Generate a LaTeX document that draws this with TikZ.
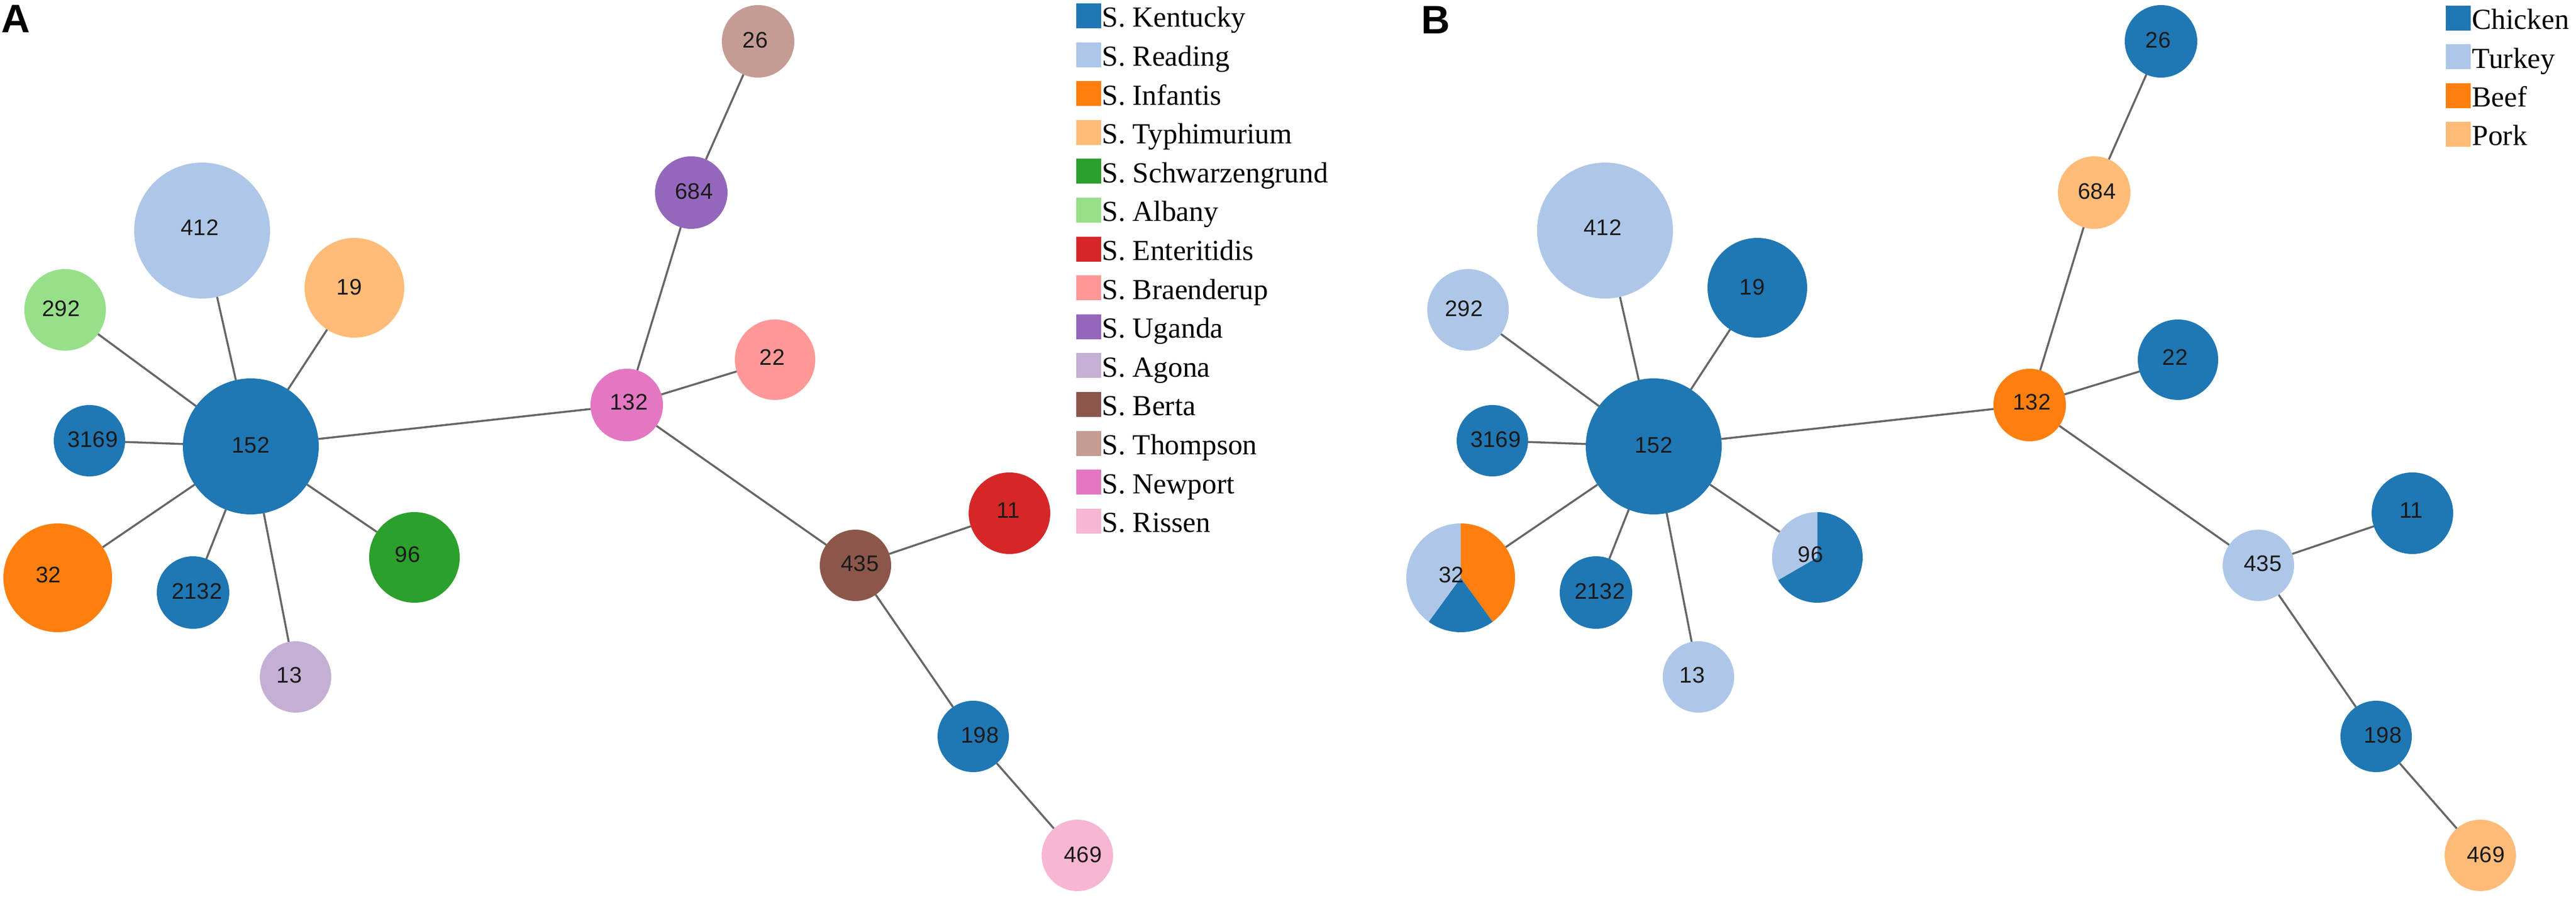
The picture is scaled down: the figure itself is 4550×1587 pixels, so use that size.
\documentclass[tikz,border=0pt]{standalone}
\usepackage{fontspec}
\setmainfont{Liberation Serif}
\setsansfont{Liberation Sans}
\pgfdeclarelayer{edges}
\pgfsetlayers{edges,main}
\definecolor{cKen}{HTML}{1F77B4}
\definecolor{cRea}{HTML}{AEC7E8}
\definecolor{cInf}{HTML}{FF7F0E}
\definecolor{cTyp}{HTML}{FFBB78}
\definecolor{cSch}{HTML}{2CA02C}
\definecolor{cAlb}{HTML}{98DF8A}
\definecolor{cEnt}{HTML}{D62728}
\definecolor{cBra}{HTML}{FF9896}
\definecolor{cUga}{HTML}{9467BD}
\definecolor{cAgo}{HTML}{C5B0D5}
\definecolor{cBer}{HTML}{8C564B}
\definecolor{cTho}{HTML}{C49C94}
\definecolor{cNew}{HTML}{E377C2}
\definecolor{cRis}{HTML}{F7B6D2}
\definecolor{edgegray}{HTML}{666666}
\definecolor{numink}{HTML}{1A1A1A}
\tikzset{
  stnode/.style={circle, inner sep=0pt, outer sep=0pt, draw=none},
  numlbl/.style={inner sep=0pt, text=numink, font=\sffamily\fontsize{11.3}{13}\selectfont},
  edge/.style={draw=edgegray, line width=1pt},
  legsq/.style={rectangle, inner sep=0pt, minimum size=4.4mm, draw=none},
  legtxt/.style={anchor=base west, inner sep=0pt, font=\fontsize{14.6}{17}\selectfont},
  panel/.style={anchor=base west, inner sep=0pt, font=\sffamily\bfseries\fontsize{20}{24}\selectfont}
}
% name, x, y, radius(px), fill, text, dx, dy
\newcommand{\stn}[8]{%
  \node[stnode, minimum size={#4*0.2mm}, fill=#5] (#1) at (#2,#3) {};
  \node[numlbl] (#1t) at ({#2+(#7)},{#3+(#8)}) {#6};
}
\begin{document}
\begin{tikzpicture}[x=0.1mm, y=-0.1mm]
\useasboundingbox (0,0) rectangle (4550,1587);

% ---------------- Panel A ----------------
\node[panel] (pA) at (2,58) {A};
\stn{a152}{443}{788}{120}{cKen}{152}{0}{-2}
\stn{a412}{357}{407}{120}{cRea}{412}{-4}{-5}
\stn{a19}{626}{508}{88}{cTyp}{19}{-9}{-1}
\stn{a292}{115}{547}{72}{cAlb}{292}{-7}{-2}
\stn{a3169}{158}{778}{63}{cKen}{3169}{6}{-2}
\stn{a32}{102}{1020}{96}{cInf}{32}{-16}{-5}
\stn{a2132}{341}{1046}{64}{cKen}{2132}{7}{-2}
\stn{a13}{522}{1195}{63}{cAgo}{13}{-11}{-3}
\stn{a96}{732}{984}{80}{cSch}{96}{-12}{-5}
\stn{a132}{1107}{715}{64}{cNew}{132}{4}{-5}
\stn{a684}{1221}{340}{64}{cUga}{684}{5}{-2}
\stn{a26}{1339}{73}{64}{cTho}{26}{-5}{-2}
\stn{a22}{1369}{635}{71}{cBra}{22}{-5}{-4}
\stn{a11}{1783}{906}{72}{cEnt}{11}{-2}{-5}
\stn{a435}{1511}{998}{63}{cBer}{435}{8}{-3}
\stn{a198}{1719}{1300}{63}{cKen}{198}{12}{-2}
\stn{a469}{1903}{1510}{63}{cRis}{469}{10}{-1}
\begin{pgfonlayer}{edges}
  \foreach \s/\t in {152/412,152/19,152/292,152/3169,152/32,152/2132,152/13,152/96,152/132,
                     132/684,684/26,132/22,132/435,435/11,435/198,198/469}
    \draw[edge] (a\s) -- (a\t);
\end{pgfonlayer}

% legend A
\foreach \c/\t [count=\i from 0] in {cKen/Kentucky,cRea/Reading,cInf/Infantis,cTyp/Typhimurium,
    cSch/Schwarzengrund,cAlb/Albany,cEnt/Enteritidis,cBra/Braenderup,cUga/Uganda,cAgo/Agona,
    cBer/Berta,cTho/Thompson,cNew/Newport,cRis/Rissen}{
  \node[legsq, fill=\c] (la\i) at (1923,{28+68.6*\i}) {};
  \node[legtxt] (lat\i) at (1946,{48+68.6*\i}) {S. \t};
}

% ---------------- Panel B ----------------
\node[panel] (pB) at (2510,60) {B};
\begin{scope}[xshift=247.8mm]
\stn{b152}{443}{788}{120}{cKen}{152}{0}{-2}
\stn{b412}{357}{407}{120}{cRea}{412}{-4}{-5}
\stn{b19}{626}{508}{88}{cKen}{19}{-9}{-1}
\stn{b292}{115}{547}{72}{cRea}{292}{-7}{-2}
\stn{b3169}{158}{778}{63}{cKen}{3169}{6}{-2}
\stn{b2132}{341}{1046}{64}{cKen}{2132}{7}{-2}
\stn{b13}{522}{1195}{63}{cRea}{13}{-11}{-3}
\stn{b132}{1107}{715}{64}{cInf}{132}{4}{-5}
\stn{b684}{1221}{340}{64}{cTyp}{684}{5}{-2}
\stn{b26}{1339}{73}{64}{cKen}{26}{-5}{-2}
\stn{b22}{1369}{635}{71}{cKen}{22}{-5}{-4}
\stn{b11}{1783}{906}{72}{cKen}{11}{-2}{-5}
\stn{b435}{1511}{998}{63}{cRea}{435}{8}{-3}
\stn{b198}{1719}{1300}{63}{cKen}{198}{12}{-2}
\stn{b469}{1903}{1510}{63}{cTyp}{469}{10}{-1}
% pie node 32
\node[stnode, minimum size=19.2mm] (b32) at (102,1020) {};
\fill[cInf] (b32.center) -- ++(-90:96) arc[start angle=-90, end angle=54, radius=96] -- cycle;
\fill[cKen] (b32.center) -- ++(54:96) arc[start angle=54, end angle=126, radius=96] -- cycle;
\fill[cRea] (b32.center) -- ++(126:96) arc[start angle=126, end angle=270, radius=96] -- cycle;
\node[numlbl] (b32t) at (86,1015) {32};
% pie node 96
\node[stnode, minimum size=16mm] (b96) at (732,984) {};
\fill[cKen] (b96.center) -- ++(-90:80) arc[start angle=-90, end angle=150, radius=80] -- cycle;
\fill[cRea] (b96.center) -- ++(150:80) arc[start angle=150, end angle=270, radius=80] -- cycle;
\node[numlbl] (b96t) at (720,979) {96};
\begin{pgfonlayer}{edges}
  \foreach \s/\t in {152/412,152/19,152/292,152/3169,152/32,152/2132,152/13,152/96,152/132,
                     132/684,684/26,132/22,132/435,435/11,435/198,198/469}
    \draw[edge] (b\s) -- (b\t);
\end{pgfonlayer}
\end{scope}

% legend B
\foreach \c/\t [count=\i from 0] in {cKen/Chicken,cRea/Turkey,cInf/Beef,cTyp/Pork}{
  \node[legsq, fill=\c] (lb\i) at (4342,{32+68.3*\i}) {};
  \node[legtxt] (lbt\i) at (4366,{52+68.3*\i}) {\t};
}
\end{tikzpicture}
\end{document}
